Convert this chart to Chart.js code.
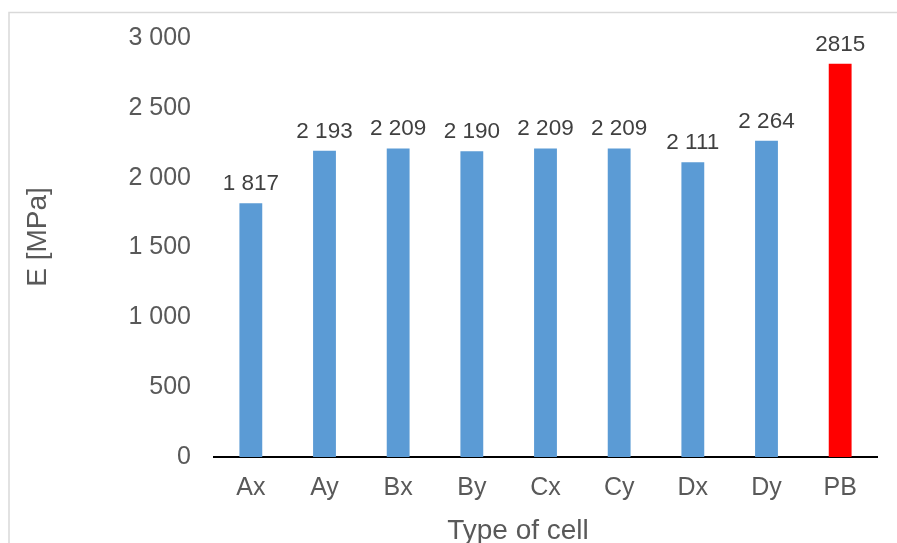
<!DOCTYPE html>
<html>
<head>
<meta charset="utf-8">
<script src="https://cdn.jsdelivr.net/npm/chart.js@4"></script>
<style>
  html, body { margin: 0; padding: 0; background: #fff; }
  #wrap { width: 897px; height: 543px; position: relative; }
</style>
</head>
<body>
<div id="wrap"><canvas id="c" width="897" height="543"></canvas></div>
<script>
// Young's modulus per cell type
const categories = ['Ax', 'Ay', 'Bx', 'By', 'Cx', 'Cy', 'Dx', 'Dy', 'PB'];
const modulus = [1817, 2193, 2209, 2190, 2209, 2209, 2111, 2264, 2815];
const valueLabels = ['1 817', '2 193', '2 209', '2 190', '2 209', '2 209', '2 111', '2 264', '2815'];
const yTicks = [0, 500, 1000, 1500, 2000, 2500, 3000];
const barColors = ['#5B9BD5', '#5B9BD5', '#5B9BD5', '#5B9BD5', '#5B9BD5', '#5B9BD5', '#5B9BD5', '#5B9BD5', '#FF0000'];
const xTitle = 'Type of cell';
const yTitle = 'E [MPa]';

const FONT = '"Liberation Sans", Arial, sans-serif';
const TEXT = '#595959';

// thousands separated by a space, as in the axis
const fmt = v => v >= 1000 ? Math.floor(v / 1000) + ' ' + String(v % 1000).padStart(3, '0') : String(v);

const framePlugin = {
  id: 'frame',
  beforeDraw(chart) {
    const ctx = chart.ctx;
    ctx.save();
    ctx.strokeStyle = '#D9D9D9';
    ctx.lineWidth = 1.5;
    ctx.beginPath();
    ctx.moveTo(9, chart.height);
    ctx.lineTo(9, 12.5);
    ctx.lineTo(chart.width, 12.5);
    ctx.stroke();
    ctx.restore();
  }
};

const labelsPlugin = {
  id: 'valueLabels',
  afterDatasetsDraw(chart) {
    const ctx = chart.ctx;
    const meta = chart.getDatasetMeta(0);
    ctx.save();
    ctx.font = '22.5px ' + FONT;
    ctx.fillStyle = '#404040';
    ctx.textAlign = 'center';
    ctx.textBaseline = 'alphabetic';
    meta.data.forEach((bar, i) => {
      ctx.fillText(valueLabels[i], bar.x, bar.y - 13);
    });
    ctx.restore();
  }
};

const titlesPlugin = {
  id: 'axisTitles',
  afterDraw(chart) {
    const ctx = chart.ctx;
    ctx.save();
    ctx.font = '28px ' + FONT;
    ctx.fillStyle = TEXT;
    ctx.textAlign = 'center';
    ctx.textBaseline = 'alphabetic';
    ctx.fillText(xTitle, 518, 539);
    ctx.translate(46, 237);
    ctx.rotate(-Math.PI / 2);
    ctx.fillText(yTitle, 0, 0);
    ctx.restore();
  }
};

new Chart(document.getElementById('c'), {
  type: 'bar',
  data: {
    labels: categories,
    datasets: [{
      data: modulus,
      backgroundColor: barColors,
      borderWidth: 0,
      categoryPercentage: 1,
      barPercentage: 0.31
    }]
  },
  options: {
    responsive: false,
    animation: false,
    devicePixelRatio: 1,
    layout: { padding: { top: 37, right: 20, left: 0, bottom: 0 } },
    plugins: { legend: { display: false }, tooltip: { enabled: false } },
    scales: {
      x: {
        grid: { display: false, drawTicks: false },
        border: { display: true, color: '#000000', width: 2 },
        ticks: { color: TEXT, font: { family: FONT, size: 25 }, padding: 16, maxRotation: 0 },
        afterFit(scale) { scale.height = 86; }
      },
      y: {
        min: 0,
        max: 3000,
        grid: { display: false, drawTicks: false },
        border: { display: false },
        afterBuildTicks(scale) { scale.ticks = yTicks.map(v => ({ value: v })); },
        ticks: { color: TEXT, font: { family: FONT, size: 25 }, padding: 23, callback: v => fmt(v) },
        afterFit(scale) { scale.width = 214; }
      }
    }
  },
  plugins: [framePlugin, labelsPlugin, titlesPlugin]
});
</script>
</body>
</html>
